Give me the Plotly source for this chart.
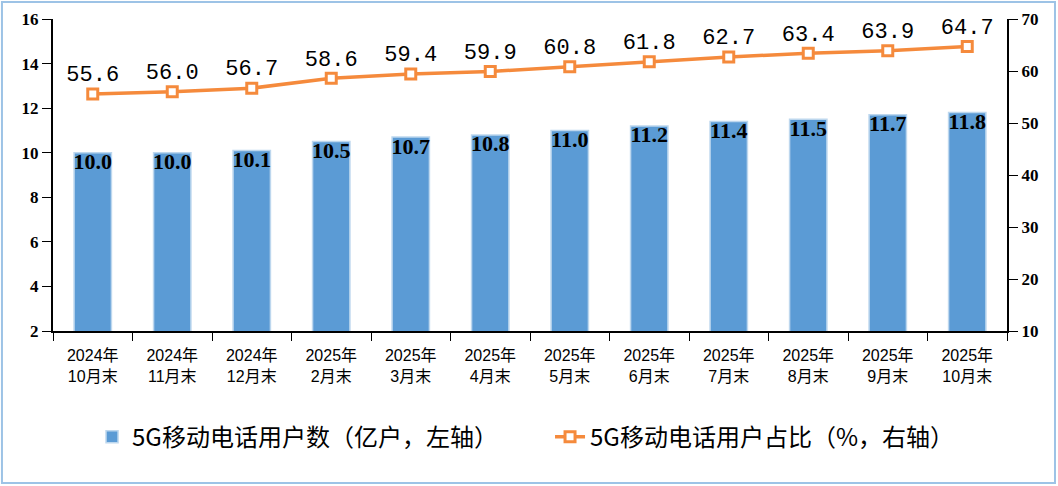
import plotly.graph_objects as go

categories = ["2024年<br>10月末", "2024年<br>11月末", "2024年<br>12月末", "2025年<br>2月末",
              "2025年<br>3月末", "2025年<br>4月末", "2025年<br>5月末", "2025年<br>6月末",
              "2025年<br>7月末", "2025年<br>8月末", "2025年<br>9月末", "2025年<br>10月末"]
users = [10.0, 10.0, 10.1, 10.5, 10.7, 10.8, 11.0, 11.2, 11.4, 11.5, 11.7, 11.8]
share = [55.6, 56.0, 56.7, 58.6, 59.4, 59.9, 60.8, 61.8, 62.7, 63.4, 63.9, 64.7]
left_ticks = [2, 4, 6, 8, 10, 12, 14, 16]
right_ticks = [10, 20, 30, 40, 50, 60, 70]

fig = go.Figure()
fig.add_trace(go.Bar(
    x=categories, y=users, name="5G移动电话用户数（亿户，左轴）",
    marker=dict(color="#5B9BD5", line=dict(color="#BDD7EE", width=1.5)),
    width=0.47,
))
fig.add_trace(go.Scatter(
    x=categories, y=users, mode="text", showlegend=False, hoverinfo="skip",
    text=[f"{v:.1f}" for v in users], textposition="bottom center",
    textfont=dict(family="Liberation Serif", size=22, color="black", weight="bold"),
    cliponaxis=False,
))
fig.add_trace(go.Scatter(
    x=categories, y=share, name="5G移动电话用户占比（%，右轴）", yaxis="y2",
    mode="lines+markers+text",
    line=dict(color="#F58A3C", width=3.5),
    marker=dict(symbol="square", size=10, color="white", line=dict(color="#F58A3C", width=3)),
    text=[f"{v:.1f}" for v in share], textposition="top center",
    textfont=dict(family="Liberation Mono", size=22, color="black"),
    cliponaxis=False,
))

fig.update_layout(
    width=1058, height=486,
    margin=dict(l=53, r=51, t=19, b=155),
    paper_bgcolor="white", plot_bgcolor="white",
    showlegend=True,
    legend=dict(orientation="h", x=0.521, xanchor="center", y=-0.34, yanchor="middle",
                font=dict(family="Noto Sans CJK SC", size=24, color="black"),
                itemwidth=30, entrywidth=413, traceorder="normal"),
    xaxis=dict(range=[-0.5, 11.5], showline=True, linecolor="black", linewidth=2, ticks="outside",
               tickson="boundaries", ticklen=8, tickcolor="black", automargin=False,
               ticklabelstandoff=9,
               tickfont=dict(family="Liberation Sans, Noto Sans CJK SC", size=16, color="black"),
               showgrid=False),
    yaxis=dict(range=[2, 16], tickvals=left_ticks, showline=True, linecolor="black",
               linewidth=2, ticks="outside", ticklen=9, tickcolor="black", showgrid=False,
               automargin=False,
               tickfont=dict(family="Liberation Serif", size=17, color="black", weight="bold"),
               zeroline=False),
    yaxis2=dict(range=[10, 70], tickvals=right_ticks, overlaying="y", side="right",
                showline=True, linecolor="black", linewidth=2, ticks="outside", ticklen=9,
                tickcolor="black", showgrid=False, zeroline=False, automargin=False,
                tickfont=dict(family="Liberation Serif", size=17, color="black", weight="bold")),
    bargap=0.53,
)
fig.add_shape(type="rect", xref="paper", yref="paper",
              x0=-0.0535, x1=1.0503, y0=-0.487, y1=1.0545,
              line=dict(color="#9DC3E6", width=2), layer="below")

fig.write_html("out.html", config={"displayModeBar": False},
               post_script="document.body.style.margin='0';")
